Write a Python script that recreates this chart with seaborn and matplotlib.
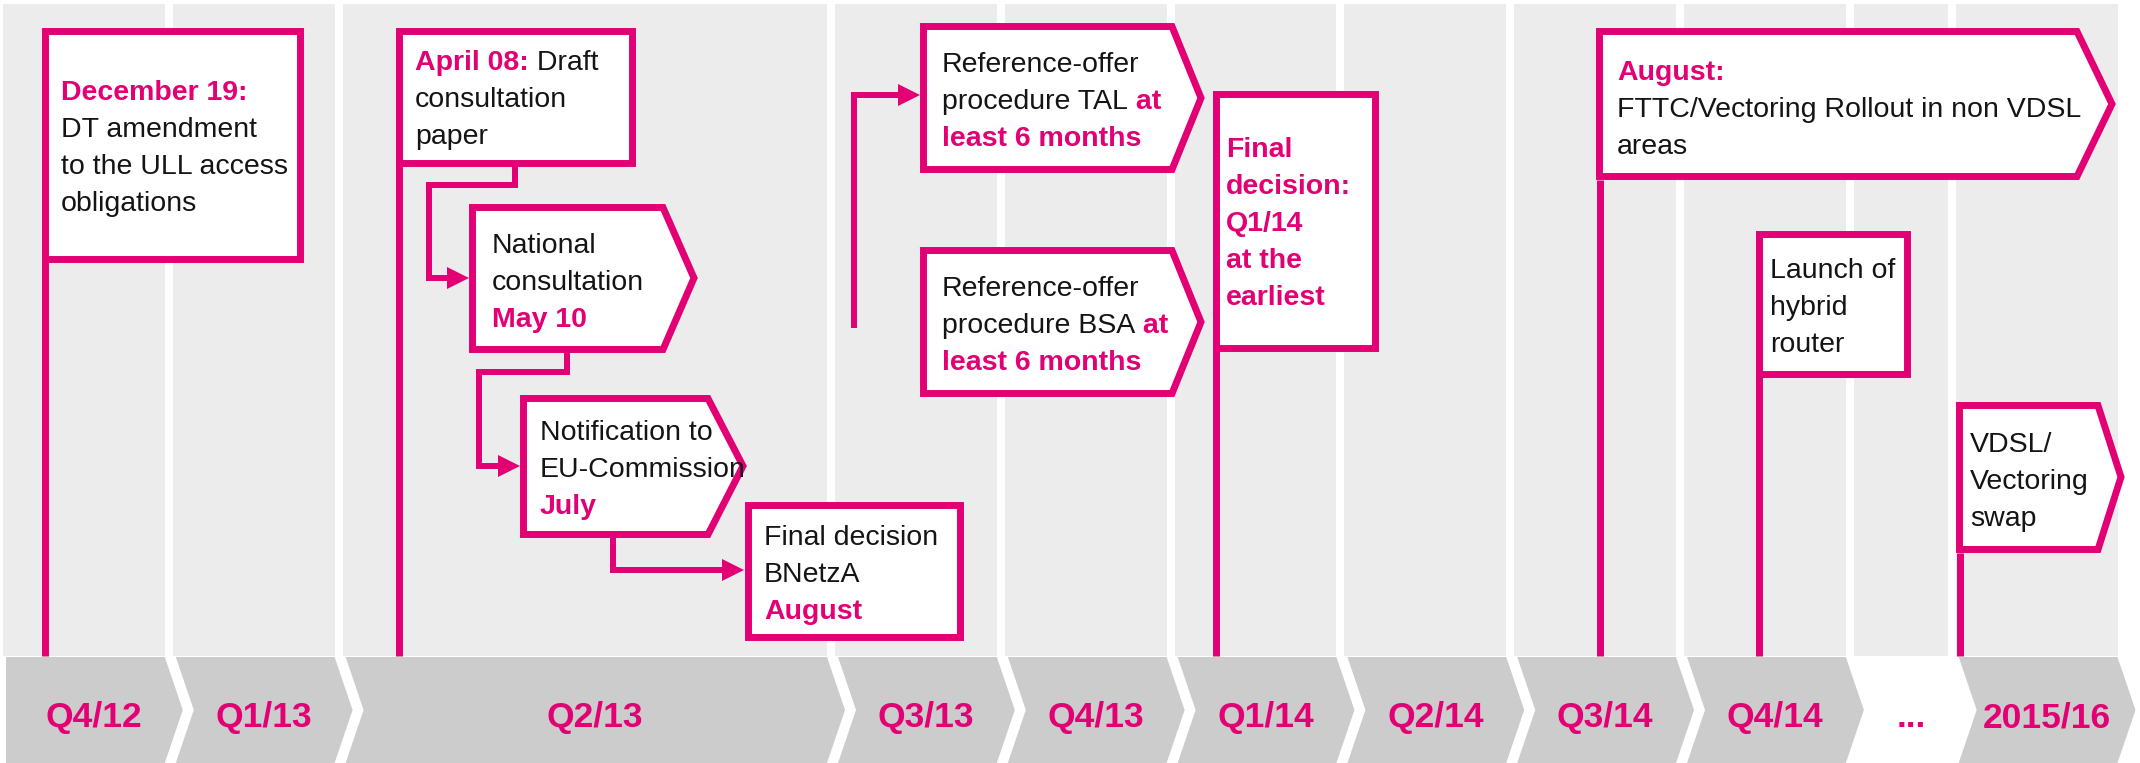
import matplotlib
matplotlib.use("Agg")
import numpy as np
import matplotlib.pyplot as plt
from matplotlib.patches import Polygon
import seaborn as sns

# ---- data -------------------------------------------------------------
quarters = ["Q4/12", "Q1/13", "Q2/13", "Q3/13", "Q4/13", "Q1/14",
            "Q2/14", "Q3/14", "Q4/14", "...", "2015/16"]
quarter_span = [1, 1, 2.9, 1, 1, 1, 1, 1, 1, 0.6, 1]   # relative column widths
no_chevron = ["..."]

# each line is a list of (text, highlighted) pieces
dec_lines = [[("December 19:", True)], [("DT amendment", False)],
             [("to the ULL access", False)], [("obligations", False)]]
april_lines = [[("April 08:", True), (" Draft", False)],
               [("consultation", False)], [("paper", False)]]
national_lines = [[("National", False)], [("consultation", False)], [("May 10", True)]]
notif_lines = [[("Notification to", False)], [("EU-Commission", False)], [("July", True)]]
bnetza_lines = [[("Final decision", False)], [("BNetzA", False)], [("August", True)]]
tal_lines = [[("Reference-offer", False)], [("procedure TAL", False), (" at", True)],
             [("least 6 months", True)]]
bsa_lines = [[("Reference-offer", False)], [("procedure BSA", False), (" at", True)],
             [("least 6 months", True)]]
final_lines = [[("Final", True)], [("decision:", True)], [("Q1/14", True)],
               [("at the", True)], [("earliest", True)]]
aug_lines = [[("August:", True)], [("FTTC/Vectoring Rollout in non VDSL", False)],
             [("areas", False)]]
launch_lines = [[("Launch of", False)], [("hybrid", False)], [("router", False)]]
vdsl_lines = [[("VDSL/", False)], [("Vectoring", False)], [("swap", False)]]

# ---- layout (pixels of the 2140x763 canvas) ---------------------------
# box: left, top, right, bottom, tip_x (None = rectangle), tip_y, text_x, first baseline, stem
boxes = [
    (dec_lines,      41,  27,  303, 262, None, None, 61,  100, True),
    (april_lines,    395, 27,  635, 166, None, None, 415, 70,  True),
    (national_lines, 469, 204, 663, 353, 701,  278,  492, 253, False),
    (notif_lines,    520, 395, 708, 538, 750,  466,  540, 440, False),
    (bnetza_lines,   744, 501, 963, 640, None, None, 764, 545, False),
    (tal_lines,      920, 23,  1172, 173, 1208, 98,  942, 72,  False),
    (bsa_lines,      920, 247, 1172, 397, 1208, 322, 942, 296, False),
    (final_lines,    1212, 90, 1378, 351, None, None, 1226, 157, True),
    (aug_lines,      1596, 28, 2077, 180, 2119, 104, 1617, 80, True),
    (launch_lines,   1755, 230, 1910, 377, None, None, 1770, 278, True),
    (vdsl_lines,     1956, 402, 2098, 553, 2128, 477, 1970, 452, True),
]
connectors = [
    ([(515, 166), (515, 185), (429, 185), (429, 278), (448, 278)], (469, 278)),
    ([(567, 353), (567, 372), (479, 372), (479, 466), (499, 466)], (520, 466)),
    ([(613, 538), (613, 570), (723, 570)], (744, 570)),
    ([(854, 328), (854, 95), (899, 95)], (920, 95)),
]

MAGENTA = "#E20074"
DARK = "#141414"
COL_GREY = "#ECECEC"
CHEV_GREY = "#CCCCCC"
W, H = 2140, 763
PITCH, GAP, X0 = 169.8, 8, 3
COL_TOP, COL_BOT = 4, 656
BAND_TOP, BAND_BOT = 657, 763
BOX_LW = 5.0       # pt  (~7 px)
STEM_LW = 5.0
LINK_LW = 4.3
BODY_FS = 20.5
LINE_PITCH = 37

sns.set_theme(style="white")
plt.rcParams["font.family"] = ["Liberation Sans", "DejaVu Sans"]

fig = plt.figure(figsize=(W / 100, H / 100), dpi=100, facecolor="white")
ax = fig.add_axes([0, 0, 1, 1])
ax.set_xlim(0, W)
ax.set_ylim(H, 0)
ax.axis("off")

# grey quarter columns
starts = X0 + PITCH * np.concatenate([[0], np.cumsum(quarter_span)[:-1]])
widths = PITCH * np.array(quarter_span) - GAP
ax.bar(starts, COL_BOT - COL_TOP, width=widths, bottom=COL_TOP, align="edge",
       color=COL_GREY, linewidth=0, zorder=0)

# chevrons with quarter labels
d = 18
mid = (BAND_TOP + BAND_BOT) / 2
for i, (q, s, w) in enumerate(zip(quarters, starts, widths)):
    e = s + w
    if q not in no_chevron:
        l = s + 3
        r = e
        notch = l if i == 0 else l + d
        pts = [(l, BAND_TOP), (r, BAND_TOP), (r + d, mid), (r, BAND_BOT),
               (l, BAND_BOT), (notch, mid)]
        ax.add_patch(Polygon(pts, closed=True, fc=CHEV_GREY, ec="none", zorder=1))
    ax.text(s + w / 2 + 10, 727, q, ha="center", va="baseline", fontsize=25.5,
            fontweight="bold", color=MAGENTA, zorder=2)


def write_lines(x, y0, lines):
    for k, line in enumerate(lines):
        y = y0 + k * LINE_PITCH
        prev = None
        for txt, hi in line:
            kw = dict(fontsize=BODY_FS, color=MAGENTA if hi else DARK,
                      fontweight="bold" if hi else "normal", zorder=6)
            if prev is None:
                prev = ax.text(x, y, txt, ha="left", va="baseline", **kw)
            else:
                prev = ax.annotate(txt, xy=(1, 0), xycoords=prev,
                                   ha="left", va="bottom", **kw)


h = 3.5
for lines, l, t, r, b, tip, tip_y, tx, ty, stem in boxes:
    if stem:
        ax.plot([l + h, l + h], [b, COL_BOT], color=MAGENTA, lw=STEM_LW,
                solid_capstyle="butt", zorder=2)
    if tip is None:
        pts = [(l + h, t + h), (r - h, t + h), (r - h, b - h), (l + h, b - h)]
    else:
        pts = [(l + h, t + h), (r, t + h), (tip - 2 * h, tip_y), (r, b - h), (l + h, b - h)]
    ax.add_patch(Polygon(pts, closed=True, fc="white", ec=MAGENTA, lw=BOX_LW,
                         joinstyle="miter", zorder=4))
    write_lines(tx, ty, lines)

# connectors with arrow heads
for path, (ax_tip, ay_tip) in connectors:
    xs, ys = zip(*path)
    ax.plot(xs, ys, color=MAGENTA, lw=LINK_LW, solid_joinstyle="miter",
            solid_capstyle="butt", zorder=3)
    ax.add_patch(Polygon([(ax_tip - 22, ay_tip - 11), (ax_tip, ay_tip),
                          (ax_tip - 22, ay_tip + 11)], closed=True,
                         fc=MAGENTA, ec="none", zorder=3))

fig.savefig("out.png", dpi=100, facecolor="white")
